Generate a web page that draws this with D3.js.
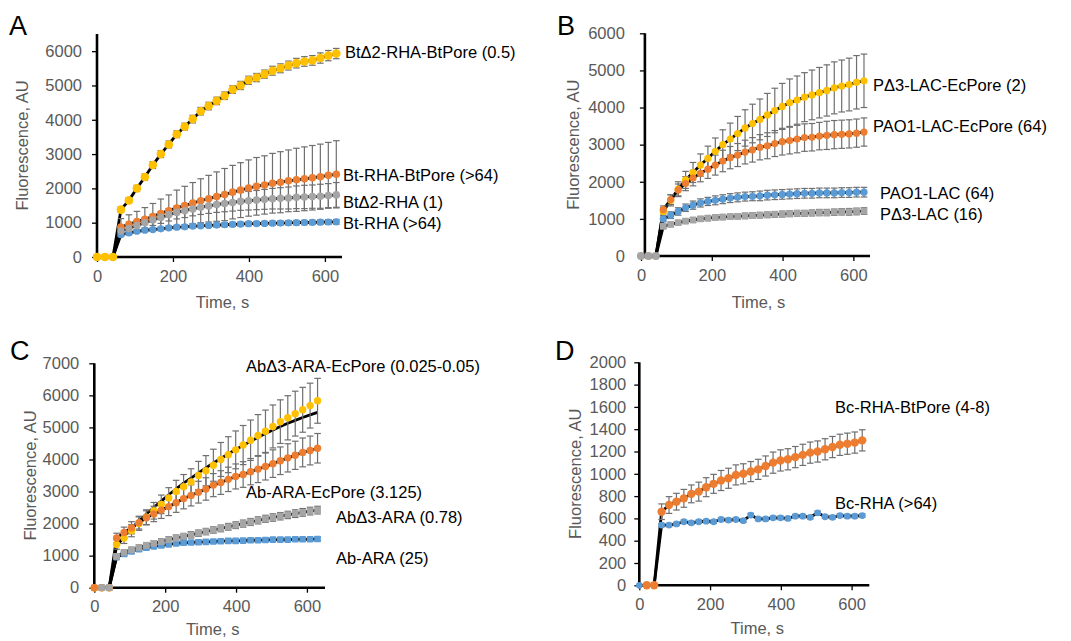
<!DOCTYPE html>
<html>
<head>
<meta charset="utf-8">
<script src="https://cdn.jsdelivr.net/npm/d3@7"></script>
<style>
  body { margin: 0; background: #fff; }
  text { font-family: "Liberation Sans", Arial, sans-serif; }
</style>
</head>
<body>
<div id="chart-area"></div>
<script>
// sampling times (s), shared by all panels
var time = [0,21,42,63,84,105,126,147,168,189,210,231,252,273,294,315,336,357,378,399,420,441,462,483,504,525,546,567,588,609,630];

// panel A
var aYellow = [0,0,0,1380,1650,2000,2330,2680,3000,3280,3580,3800,4020,4250,4400,4550,4700,4880,5000,5150,5230,5330,5430,5500,5580,5650,5700,5730,5800,5870,5930];
var aYellowErr = [0,0,0,80,80,90,90,100,100,100,100,100,110,110,110,110,110,110,120,120,120,120,130,130,130,140,140,140,150,150,150];
var aOrange = [0,0,0,870,950,1030,1100,1180,1270,1350,1430,1500,1570,1640,1700,1760,1820,1890,1950,2010,2060,2100,2150,2180,2220,2250,2280,2310,2340,2380,2410];
var aOrangeErr = [0,0,0,250,280,300,340,380,420,460,520,560,600,640,680,720,760,780,800,820,840,850,870,890,900,920,930,940,950,960,980];
var aGray = [0,0,0,760,830,920,1000,1080,1150,1230,1300,1350,1400,1450,1490,1530,1560,1590,1620,1640,1660,1680,1700,1710,1720,1740,1750,1760,1770,1790,1810];
var aGrayErr = [0,0,0,120,130,140,150,160,170,180,190,200,200,210,220,230,240,250,260,270,280,290,300,310,320,330,340,340,350,350,360];
var aBlue = [0,0,0,650,700,750,780,800,820,850,870,880,900,910,920,930,940,950,960,970,975,980,985,990,995,1000,1005,1010,1015,1020,1025];
var aBlueErr = [0,0,0,50,50,50,50,50,50,55,55,55,55,55,60,60,60,60,60,60,60,60,60,65,65,65,65,65,65,70,70];

// panel B
var bYellow = [0,0,0,1200,1500,1800,2050,2250,2450,2630,2820,3000,3150,3300,3450,3570,3680,3800,3920,4030,4130,4200,4280,4340,4400,4460,4530,4580,4620,4680,4720];
var bYellowErr = [0,0,0,100,150,200,230,270,300,330,360,400,430,460,490,520,550,580,600,620,640,650,660,670,680,690,700,700,710,720,720];
var bOrange = [0,0,0,1250,1520,1780,1950,2100,2230,2340,2450,2560,2650,2720,2800,2860,2930,2970,3030,3080,3110,3150,3190,3200,3230,3250,3270,3280,3290,3310,3340];
var bOrangeErr = [0,0,0,100,130,160,190,210,230,250,270,290,300,310,320,330,340,350,350,360,360,370,370,370,370,380,380,380,380,380,380];
var bBlue = [0,0,0,1000,1100,1200,1300,1370,1430,1470,1500,1530,1560,1580,1600,1610,1620,1640,1650,1660,1670,1680,1690,1690,1700,1700,1700,1710,1710,1720,1720];
var bBlueErr = [0,0,0,80,90,100,100,110,110,110,120,120,120,120,120,120,130,130,130,130,130,130,130,130,130,130,130,130,130,130,130];
var bGray = [0,0,0,800,850,900,940,970,1000,1020,1040,1050,1060,1070,1080,1090,1100,1110,1120,1130,1140,1150,1150,1160,1170,1170,1180,1190,1190,1200,1210];
var bGrayErr = [0,0,0,60,60,60,65,65,65,70,70,70,70,70,75,75,75,75,80,80,80,80,80,80,85,85,85,85,90,90,90];

// panel C
var cYellow = [0,0,0,1350,1550,1780,2000,2200,2400,2600,2800,3000,3150,3300,3500,3650,3820,4000,4150,4300,4450,4600,4750,4880,5030,5180,5300,5430,5550,5680,5830];
var cYellowFit = [0,0,0,1300,1600,1850,2080,2300,2500,2700,2900,3080,3260,3420,3580,3740,3890,4030,4170,4310,4440,4570,4690,4810,4920,5030,5130,5220,5310,5390,5470];
var cYellowErr = [0,0,0,150,170,190,210,230,260,290,320,350,380,410,440,470,500,530,560,590,610,630,650,660,670,680,690,700,700,700,700];
var cOrange = [0,0,0,1550,1720,1870,2030,2180,2300,2420,2530,2650,2780,2880,2980,3080,3200,3280,3380,3470,3530,3620,3700,3780,3870,3960,4050,4130,4220,4280,4350];
var cOrangeErr = [0,0,0,150,170,190,200,220,240,260,280,300,320,330,340,350,360,370,380,390,400,410,420,420,430,430,440,440,450,450,460];
var cGray = [null,0,0,980,1100,1180,1250,1320,1380,1440,1500,1550,1600,1650,1700,1750,1800,1850,1900,1950,2000,2050,2100,2150,2190,2230,2270,2310,2350,2390,2420];
var cGrayErr = [0,0,0,80,80,85,85,90,90,90,95,95,95,100,100,100,100,105,105,105,110,110,110,110,115,115,115,120,120,120,120];
var cBlue = [0,0,0,950,1050,1130,1200,1250,1290,1320,1350,1380,1400,1410,1420,1430,1440,1450,1460,1460,1470,1480,1480,1490,1500,1500,1500,1510,1510,1510,1520];
var cBlueErr = [0,0,0,60,60,60,60,60,60,60,60,60,60,60,60,60,60,60,60,60,60,60,60,60,60,60,60,60,60,60,60];

// panel D
var dOrange = [null,0,0,660,720,750,780,820,840,880,910,940,960,990,1000,1020,1040,1070,1100,1120,1130,1150,1170,1190,1200,1220,1240,1260,1270,1280,1300];
var dOrangeErr = [0,0,0,70,75,75,80,80,85,85,85,90,90,90,90,90,90,90,95,95,95,95,95,95,95,95,95,95,95,95,95];
var dBlue = [0,0,0,540,540,550,570,560,570,575,570,590,585,590,580,630,595,595,605,605,600,620,620,610,650,615,610,625,620,620,625];
var dBlueErr = [0,0,0,15,15,15,15,15,15,15,15,15,15,15,15,15,15,15,15,15,15,15,15,15,15,15,15,15,15,15,15];

var yellow = "#FFC000", orange = "#ED7D31", gray = "#A5A5A5", blue = "#5B9BD5";

var svg = d3.select("#chart-area").append("svg")
    .attr("width", 1071)
    .attr("height", 641);

var panels = [
  { letter: "A", lx: 9, ly: 35, x0: 97, x1: 342, xmax: 645, yBot: 257, yTop: 34, ymax: 6500,
    yticks: d3.range(0, 6001, 1000), yAt: 0, pad: 10, titleX: 22, timeY: 302,
    series: [
      { v: aBlue, e: aBlueErr, c: blue, r: 3.6 },
      { v: aOrange, e: aOrangeErr, c: orange, r: 3.8 },
      { v: aGray, e: aGrayErr, c: gray, r: 3.8 },
      { v: aYellow, e: aYellowErr, c: yellow, r: 4.3 }
    ],
    labels: [
      { t: "BtΔ2-RHA-BtPore (0.5)", x: 345, y: 52 },
      { t: "Bt-RHA-BtPore (>64)", x: 343, y: 175 },
      { t: "BtΔ2-RHA (1)", x: 343, y: 202 },
      { t: "Bt-RHA  (>64)", x: 343, y: 223 }
    ] },
  { letter: "B", lx: 557, ly: 35, x0: 641, x1: 870, xmax: 647, yBot: 256, yTop: 33.3, ymax: 6000,
    yticks: d3.range(0, 6001, 1000), yAt: 11, pad: 15, titleX: 573, timeY: 302,
    series: [
      { v: bYellow, e: bYellowErr, c: yellow, r: 3.6 },
      { v: bOrange, e: bOrangeErr, c: orange, r: 3.6 },
      { v: bBlue, e: bBlueErr, c: blue, r: 3.6 },
      { v: bGray, e: bGrayErr, c: gray, r: 3.4, sq: true }
    ],
    labels: [
      { t: "PΔ3-LAC-EcPore (2)", x: 873, y: 85 },
      { t: "PAO1-LAC-EcPore (64)", x: 873, y: 126 },
      { t: "PAO1-LAC (64)", x: 880, y: 193 },
      { t: "PΔ3-LAC (16)", x: 880, y: 214 }
    ] },
  { letter: "C", lx: 10, ly: 360, x0: 94.3, x1: 325, xmax: 651, yBot: 587.7, yTop: 363.3, ymax: 7000,
    yticks: d3.range(0, 7001, 1000), yAt: 0, pad: 10, titleX: 30, timeY: 629,
    series: [
      { v: cBlue, e: cBlueErr, c: blue, r: 3.3, sq: true },
      { v: cYellow, e: cYellowErr, c: yellow, r: 3.7, fit: cYellowFit },
      { v: cOrange, e: cOrangeErr, c: orange, r: 3.7 },
      { v: cGray, e: cGrayErr, c: gray, r: 3.4, sq: true }
    ],
    labels: [
      { t: "AbΔ3-ARA-EcPore (0.025-0.05)", x: 246, y: 366 },
      { t: "Ab-ARA-EcPore (3.125)", x: 246, y: 492 },
      { t: "AbΔ3-ARA (0.78)", x: 336, y: 517 },
      { t: "Ab-ARA (25)", x: 336, y: 558 }
    ] },
  { letter: "D", lx: 555, ly: 360, x0: 639.3, x1: 869.3, xmax: 650, yBot: 585.3, yTop: 362.3, ymax: 2000,
    yticks: d3.range(0, 2001, 200), yAt: 0, pad: 8, titleX: 575, timeY: 628,
    series: [
      { v: dBlue, e: dBlueErr, c: blue, r: 3.4 },
      { v: dOrange, e: dOrangeErr, c: orange, r: 4.2 }
    ],
    labels: [
      { t: "Bc-RHA-BtPore (4-8)", x: 835, y: 407 },
      { t: "Bc-RHA (>64)", x: 835, y: 503 }
    ] }
];

panels.forEach((p) => {
  var x = d3.scaleLinear().domain([0, p.xmax]).range([p.x0, p.x1]);
  var y = d3.scaleLinear().domain([0, p.ymax]).range([p.yBot, p.yTop]);
  var g = svg.append("g");

  // x axis
  var xa = g.append("g")
      .attr("transform", "translate(0," + p.yBot + ")")
      .call(d3.axisBottom(x).tickValues([0, 200, 400, 600]).tickFormat(d3.format("d")).tickSize(5).tickPadding(8));
  // y axis
  var ya = g.append("g")
      .attr("transform", "translate(" + x(p.yAt) + ",0)")
      .call(d3.axisLeft(y).tickValues(p.yticks).tickFormat(d3.format("d")).tickSize(5).tickPadding(p.pad));
  [xa, ya].forEach((a) => {
    a.select(".domain").attr("stroke", "#000").attr("stroke-width", 2.6);
    a.selectAll(".tick line").attr("stroke", "#000").attr("stroke-width", 1.3);
    a.selectAll(".tick text").attr("fill", "#595959").style("font-size", "16.5px");
  });
  ya.select(".domain").attr("d", "M0," + p.yBot + "V" + p.yTop);
  xa.select(".domain").attr("d", "M" + x(p.yAt) + ",0H" + p.x1);

  // black lines under markers
  var line = d3.line()
      .defined((d) => d != null)
      .x((d, i) => x(time[i]))
      .y((d) => y(d));
  p.series.forEach((s) => {
    g.append("path")
        .attr("d", line(s.fit || s.v))
        .attr("fill", "none")
        .attr("stroke", "#000")
        .attr("stroke-width", 2.8)
        .attr("stroke-linejoin", "round");
  });

  // error bars
  p.series.forEach((s) => {
    var pts = s.v.map((d, i) => ({ t: time[i], v: d, e: s.e[i] })).filter((d) => d.v != null && d.e > 0);
    var eb = g.append("g").attr("stroke", "#6F6F6F").attr("stroke-width", 1.2);
    eb.selectAll(".bar").data(pts).enter().append("line")
        .attr("x1", (d) => x(d.t)).attr("x2", (d) => x(d.t))
        .attr("y1", (d) => y(d.v - d.e)).attr("y2", (d) => y(d.v + d.e));
    [1, -1].forEach((sg) => {
      eb.selectAll(".cap" + sg).data(pts).enter().append("line")
          .attr("x1", (d) => x(d.t) - 3.3).attr("x2", (d) => x(d.t) + 3.3)
          .attr("y1", (d) => y(d.v + sg * d.e)).attr("y2", (d) => y(d.v + sg * d.e));
    });
  });

  // markers
  p.series.forEach((s) => {
    var pts = s.v.map((d, i) => ({ t: time[i], v: d })).filter((d) => d.v != null);
    if (s.sq) {
      g.selectAll(null).data(pts).enter().append("rect")
          .attr("x", (d) => x(d.t) - s.r).attr("y", (d) => y(d.v) - s.r)
          .attr("width", s.r * 2).attr("height", s.r * 2)
          .attr("rx", 0.8)
          .attr("fill", s.c);
    } else {
      g.selectAll(null).data(pts).enter().append("circle")
          .attr("cx", (d) => x(d.t)).attr("cy", (d) => y(d.v))
          .attr("r", s.r)
          .attr("fill", s.c);
    }
  });

  // axis titles
  g.append("text")
      .attr("transform", "translate(" + p.titleX + "," + (p.yBot + p.yTop) / 2 + ") rotate(-90)")
      .attr("text-anchor", "middle")
      .attr("dy", "0.35em")
      .attr("fill", "#595959")
      .style("font-size", "16.5px")
      .text("Fluorescence, AU");
  g.append("text")
      .attr("x", (p.x0 + p.x1) / 2 + 3)
      .attr("y", p.timeY)
      .attr("text-anchor", "middle")
      .attr("dy", "0.35em")
      .attr("fill", "#595959")
      .style("font-size", "16.5px")
      .text("Time, s");

  // series labels
  g.selectAll(".lbl").data(p.labels).enter().append("text")
      .attr("x", (d) => d.x)
      .attr("y", (d) => d.y)
      .attr("dy", "0.35em")
      .attr("fill", "#000")
      .style("font-size", "16.5px")
      .text((d) => d.t);

  // panel letter
  g.append("text")
      .attr("x", p.lx)
      .attr("y", p.ly)
      .attr("fill", "#000")
      .style("font-size", "27px")
      .text(p.letter);
});
</script>
</body>
</html>
